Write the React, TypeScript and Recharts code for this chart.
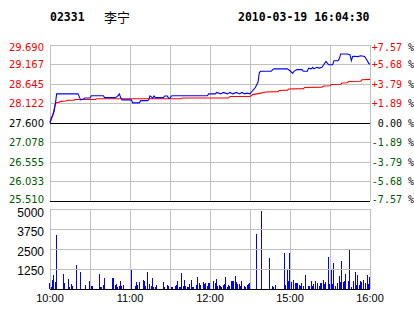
import React from 'react';
import { ComposedChart, Line, Bar, XAxis, YAxis, ReferenceLine } from 'recharts';

const stockCode = '02331';
const stockName = '李宁';
const timestamp = '2010-03-19 16:04:30';

const prevClose = 27.6;
const priceTicks = [25.51, 26.033, 26.555, 27.078, 27.6, 28.122, 28.645, 29.167, 29.69];
const pctTicks = [-7.57, -5.68, -3.79, -1.89, 0, 1.89, 3.79, 5.68, 7.57];
const volTicks = [0, 1250, 2500, 3750, 5000];
const timeTicks = [0, 60, 120, 180, 240];
const timeLabels = ['10:00', '11:00', '12:00', '15:00', '16:00'];
const gridMinutes = [0, 30, 60, 90, 120, 150, 180, 210, 240];

// minutes since 10:00 (trading minutes, lunch break removed)
const priceMinutes = [0, 1, 2, 3, 4, 5, 21, 22, 23, 25, 26, 30, 31, 40, 41, 49, 50, 51, 52, 53, 54, 55, 61, 62, 67, 68, 73, 74, 75, 76, 77, 78, 79, 80, 85, 86, 88, 89, 90, 91, 92, 93, 118, 119, 124, 125, 128, 130, 133, 135, 137, 140, 142, 144, 146, 148, 150, 152, 154, 156, 157, 158, 166, 167, 168, 178, 180, 182, 183, 185, 189, 190, 193, 194, 196, 197, 198, 200, 202, 204, 206, 207, 209, 212, 213, 216, 217, 218, 223, 225, 226, 227, 228, 231, 233, 236, 238, 239, 240];
const priceValues = [27.6, 27.75, 27.8, 27.9, 28.11, 28.38, 28.38, 28.3, 28.22, 28.24, 28.27, 28.27, 28.33, 28.33, 28.28, 28.28, 28.3, 28.33, 28.38, 28.28, 28.22, 28.22, 28.22, 28.14, 28.14, 28.2, 28.2, 28.22, 28.325, 28.3, 28.26, 28.325, 28.28, 28.28, 28.28, 28.325, 28.325, 28.26, 28.26, 28.325, 28.33, 28.33, 28.33, 28.38, 28.38, 28.42, 28.38, 28.42, 28.38, 28.42, 28.38, 28.42, 28.38, 28.42, 28.38, 28.4, 28.38, 28.47, 28.55, 28.69, 28.95, 28.985, 28.985, 29.03, 29.05, 29.05, 29.0, 28.93, 28.985, 29.03, 29.03, 28.985, 28.985, 29.07, 29.05, 29.09, 29.05, 29.09, 29.07, 29.09, 29.2, 29.25, 29.16, 29.16, 29.27, 29.27, 29.32, 29.45, 29.45, 29.43, 29.27, 29.38, 29.39, 29.38, 29.4, 29.38, 29.27, 29.2, 29.17];

const avgMinutes = [0, 1, 2, 3, 4, 5, 7, 8, 12, 13, 18, 19, 34, 35, 98, 99, 134, 135, 150, 152, 158, 162, 171, 172, 178, 179, 190, 191, 204, 205, 210, 211, 218, 219, 223, 224, 233, 234, 240];
const avgValues = [27.62, 27.7, 27.8, 27.95, 28.11, 28.15, 28.16, 28.18, 28.19, 28.21, 28.21, 28.23, 28.23, 28.25, 28.25, 28.27, 28.27, 28.31, 28.31, 28.36, 28.4, 28.43, 28.44, 28.47, 28.48, 28.51, 28.52, 28.55, 28.56, 28.59, 28.6, 28.63, 28.64, 28.67, 28.68, 28.71, 28.72, 28.76, 28.77];

const volMinutes = [0, 1, 2, 3, 4, 5, 10, 11, 14, 15, 16, 17, 20, 23, 27, 30, 31, 32, 37, 38, 39, 40, 41, 47, 48, 49, 50, 51, 52, 53, 54, 55, 61, 64, 65, 66, 67, 70, 71, 72, 73, 75, 76, 77, 78, 79, 80, 85, 86, 88, 89, 91, 92, 94, 95, 96, 97, 98, 99, 100, 101, 102, 103, 104, 105, 106, 107, 108, 110, 111, 112, 113, 115, 116, 117, 118, 119, 120, 123, 124, 125, 126, 127, 128, 129, 130, 131, 132, 133, 134, 135, 136, 137, 138, 139, 140, 141, 142, 143, 144, 146, 147, 148, 149, 150, 155, 159, 165, 167, 168, 169, 176, 177, 178, 179, 180, 181, 183, 184, 185, 186, 187, 188, 189, 190, 192, 194, 195, 196, 197, 198, 199, 201, 202, 203, 204, 205, 206, 207, 209, 210, 211, 212, 213, 214, 216, 217, 218, 219, 220, 221, 222, 224, 225, 226, 228, 229, 230, 231, 232, 233, 234, 235, 237, 238, 239, 240];
const volValues = [377, 147, 587, 900, 461, 3355, 965, 398, 650, 147, 335, 210, 1531, 1090, 273, 524, 210, 210, 965, 147, 147, 273, 713, 713, 713, 273, 335, 147, 210, 524, 210, 273, 1279, 210, 461, 273, 461, 587, 524, 210, 1090, 335, 210, 713, 147, 147, 273, 461, 147, 273, 210, 147, 147, 210, 273, 524, 147, 147, 1027, 210, 587, 210, 147, 147, 335, 587, 147, 147, 273, 776, 398, 273, 461, 335, 398, 210, 398, 398, 524, 398, 650, 210, 273, 210, 147, 273, 335, 776, 147, 273, 210, 524, 524, 524, 839, 461, 335, 335, 210, 524, 210, 147, 273, 335, 398, 3460, 4865, 1929, 210, 147, 273, 2223, 273, 1216, 524, 2223, 461, 587, 398, 398, 398, 273, 210, 398, 210, 900, 210, 210, 524, 210, 335, 524, 398, 210, 398, 398, 587, 335, 461, 1970, 335, 1216, 335, 1656, 210, 398, 839, 461, 1719, 461, 524, 965, 524, 2495, 147, 524, 1090, 273, 900, 273, 524, 461, 587, 398, 900, 335, 776, 776];

const priceData = priceMinutes.map((t, i) => ({ t, price: priceValues[i], pct: ((priceValues[i] - prevClose) / prevClose) * 100 }));
const avgData = avgMinutes.map((t, i) => ({ t, avg: avgValues[i] }));
const volData = volMinutes.map((t, i) => ({ t, vol: volValues[i] }));

const RED = '#ff0000';
const GREEN = '#005a00';
const BLUE = '#0000ff';
const GRID = '#c0c0c0';

// crisp 1px line drawn at the coordinates the library computed
const crispLine = (color: string) => (p: any) => (
  <line x1={p.x1} y1={p.y1} x2={p.x2} y2={p.y2} stroke={color} strokeWidth={1} shapeRendering="crispEdges" />
);

const CrispBar = (p: any) => (
  <rect x={p.x} y={p.y} width={Math.max(1, p.width)} height={p.height} fill={BLUE} shapeRendering="crispEdges" />
);

// vertical nudge of a tick label relative to its grid line (top/bottom labels kept inside)
const edgeNudge = (idx: number, n: number) => (idx === 0 ? -1.5 : idx === n - 1 ? 2.7 : 0);

const PriceTick = (props: any) => {
  const { x, y, payload } = props;
  const v = payload.value as number;
  const idx = priceTicks.indexOf(v);
  const color = v > prevClose + 1e-6 ? RED : v < prevClose - 1e-6 ? GREEN : '#000';
  return (
    <text x={x} y={y} dy={3.7 + edgeNudge(idx, priceTicks.length)} textAnchor="end" fill={color} fontFamily="DejaVu Sans" fontSize={10}>
      {v.toFixed(3)}
    </text>
  );
};

const PctTick = (props: any) => {
  const { y, payload } = props;
  const v = payload.value as number;
  const idx = pctTicks.indexOf(v);
  const color = v > 1e-6 ? RED : v < -1e-6 ? GREEN : '#000';
  const sign = v > 1e-6 ? '+' : v < -1e-6 ? '-' : '';
  return (
    <text x={414} y={y} dy={3.7 + edgeNudge(idx, pctTicks.length)} textAnchor="end" fontFamily="DejaVu Sans Mono" fontSize={10}>
      <tspan fill={color}>{sign + Math.abs(v).toFixed(2)}</tspan>
      <tspan fill="#000">{' %'}</tspan>
    </text>
  );
};

const VolTick = (props: any) => {
  const { x, y, payload } = props;
  if (payload.value === 0) return null;
  const idx = volTicks.indexOf(payload.value);
  return (
    <text x={x} y={y} dy={5 + idx * 0.8} textAnchor="end" fill="#000" fontFamily="Liberation Sans" fontSize={12}>
      {payload.value}
    </text>
  );
};

const TimeTick = (props: any) => {
  const { x, y, payload } = props;
  const idx = timeTicks.indexOf(payload.value);
  return (
    <text x={x} y={y} dy={13} textAnchor="middle" fill="#000" fontFamily="Liberation Sans" fontSize={11}>
      {timeLabels[idx]}
    </text>
  );
};

export default function App() {
  return (
    <div style={{ position: 'absolute', left: 0, top: 0, width: 414, height: 314, background: '#fff', overflow: 'hidden' }}>
      <div style={{ position: 'absolute', left: 50, top: 10, fontFamily: 'DejaVu Sans Mono', fontWeight: 'bold', fontSize: 11.5, lineHeight: '14px' }}>{stockCode}</div>
      <div style={{ position: 'absolute', left: 104, top: 9, fontFamily: 'Noto Sans CJK SC', fontSize: 13, lineHeight: '16px' }}>{stockName}</div>
      <div style={{ position: 'absolute', left: 238, top: 10, fontFamily: 'DejaVu Sans Mono', fontWeight: 'bold', fontSize: 11.5, lineHeight: '14px' }}>{timestamp}</div>

      <div style={{ position: 'absolute', left: 0, top: 0 }}>
        <ComposedChart width={414} height={210} margin={{ top: 45, right: 0, bottom: 9, left: 0 }}>
          <XAxis dataKey="t" type="number" domain={[0, 240]} ticks={gridMinutes} hide allowDuplicatedCategory={false} />
          <YAxis yAxisId="p" type="number" domain={[25.51, 29.69]} ticks={priceTicks} interval={0} width={50} axisLine={false} tickLine={false} tickSize={0} tickMargin={6} tick={<PriceTick />} />
          <YAxis yAxisId="pct" orientation="right" type="number" domain={[-7.57, 7.57]} ticks={pctTicks} interval={0} width={44} axisLine={false} tickLine={false} tickSize={0} tickMargin={2} tick={<PctTick />} />
          {gridMinutes.map((m) => (
            <ReferenceLine key={'vx' + m} yAxisId="p" x={m} shape={crispLine(GRID)} />
          ))}
          {priceTicks.map((v) => (
            <ReferenceLine key={'hy' + v} yAxisId="p" y={v} shape={crispLine(v === prevClose || v === priceTicks[0] ? '#000' : GRID)} />
          ))}
          <Line yAxisId="pct" data={priceData} dataKey="pct" stroke="none" dot={false} activeDot={false} isAnimationActive={false} />
          <Line yAxisId="p" data={avgData} dataKey="avg" type="linear" stroke={RED} strokeWidth={1.1} dot={false} isAnimationActive={false} />
          <Line yAxisId="p" data={priceData} dataKey="price" type="linear" stroke={BLUE} strokeWidth={1.1} dot={false} isAnimationActive={false} />
        </ComposedChart>
      </div>

      <div style={{ position: 'absolute', left: 0, top: 200 }}>
        <ComposedChart width={414} height={114} data={volData} margin={{ top: 9, right: 44, bottom: 0, left: 0 }}>
          <XAxis dataKey="t" type="number" domain={[0, 240]} ticks={timeTicks} interval={0} height={25} axisLine={false} tickLine={false} tickSize={0} tickMargin={0} tick={<TimeTick />} />
          <YAxis type="number" domain={[0, 5000]} ticks={volTicks} interval={0} width={50} axisLine={false} tickLine={false} tickSize={0} tickMargin={6} tick={<VolTick />} />
          {gridMinutes.map((m) => (
            <ReferenceLine key={'vx' + m} x={m} shape={crispLine(GRID)} />
          ))}
          {volTicks.map((v) => (
            <ReferenceLine key={'hy' + v} y={v} shape={crispLine(v === 0 ? '#000' : GRID)} />
          ))}
          <Bar dataKey="vol" fill={BLUE} barSize={1} shape={<CrispBar />} isAnimationActive={false} />
        </ComposedChart>
      </div>
    </div>
  );
}
